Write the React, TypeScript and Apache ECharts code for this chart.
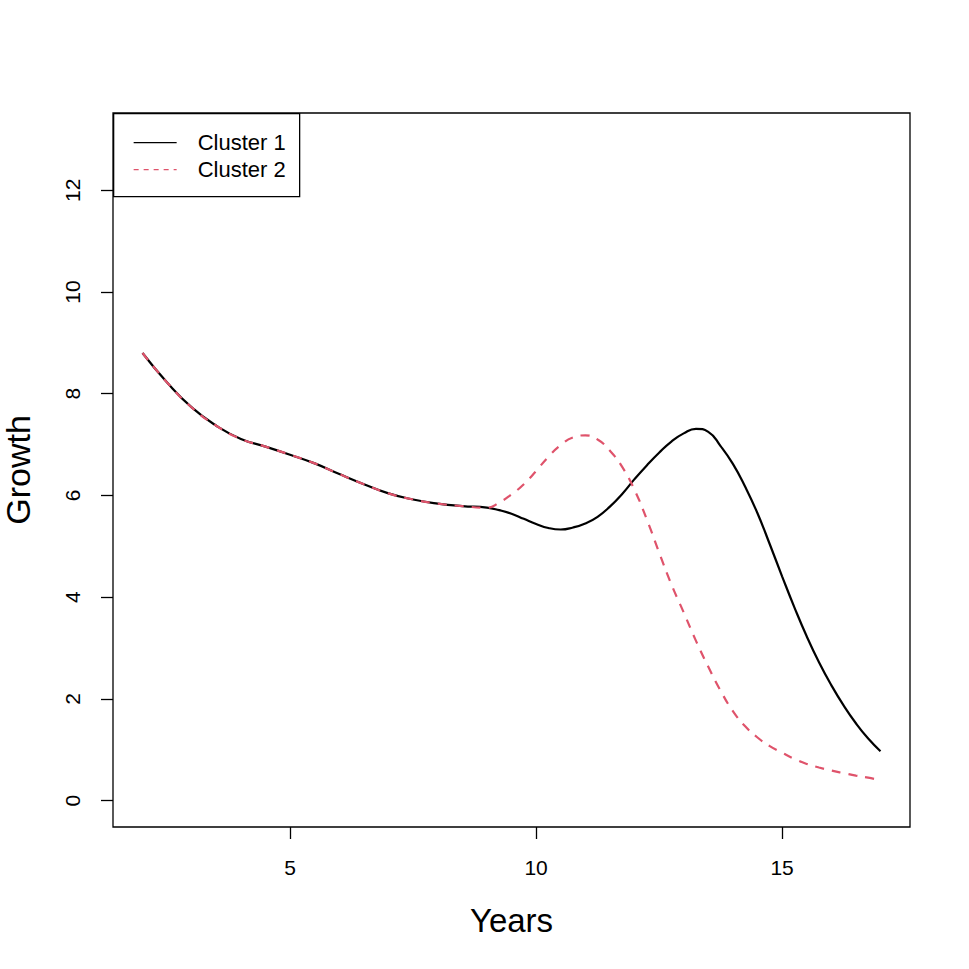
import React, { useEffect, useRef } from "react";
import * as echarts from "echarts";

const years = [2, 2.5, 3, 3.5, 4, 4.5, 5, 5.5, 6, 6.5, 7, 7.5, 8, 8.5, 9, 9.25, 9.5, 9.75, 10, 10.25, 10.5, 10.75, 11, 11.25, 11.5, 11.75, 12, 12.25, 12.5, 12.75, 13, 13.25, 13.5, 13.75, 14, 14.25, 14.5, 14.75, 15, 15.25, 15.5, 15.75, 16, 16.25, 16.5, 16.75, 17];
const cluster1 = [8.8, 8.22, 7.73, 7.37, 7.11, 6.96, 6.8, 6.63, 6.42, 6.22, 6.04, 5.92, 5.84, 5.79, 5.76, 5.71, 5.64, 5.54, 5.44, 5.36, 5.33, 5.37, 5.45, 5.58, 5.78, 6.03, 6.32, 6.59, 6.84, 7.06, 7.22, 7.31, 7.25, 6.97, 6.62, 6.17, 5.65, 5.04, 4.41, 3.8, 3.23, 2.72, 2.27, 1.87, 1.52, 1.22, 0.97];
const cluster2 = [8.8, 8.22, 7.73, 7.37, 7.11, 6.96, 6.8, 6.63, 6.42, 6.22, 6.04, 5.92, 5.84, 5.79, 5.76, 5.86, 6.02, 6.22, 6.48, 6.76, 6.99, 7.14, 7.18, 7.1, 6.88, 6.56, 6.11, 5.53, 4.88, 4.25, 3.7, 3.14, 2.63, 2.16, 1.76, 1.46, 1.24, 1.07, 0.94, 0.82, 0.72, 0.65, 0.59, 0.54, 0.49, 0.45, 0.4];
const xTicks = [5, 10, 15];
const yTicks = [0, 2, 4, 6, 8, 10, 12];
const seriesNames = ["Cluster 1", "Cluster 2"];
const seriesColors = ["#000000", "#DF536B"];

const FONT = "Liberation Sans, Arial, Helvetica, sans-serif";

export default function App() {
  const ref = useRef<HTMLDivElement>(null);
  useEffect(() => {
    if (!ref.current) return;
    const chart = echarts.init(ref.current, null, { renderer: "svg" });
    const pair = (ys: number[]) => years.map((x, i) => [x, ys[i]]);
    const legendLeft = 113;
    const legendTop = 113;
    chart.setOption({
      animation: false,
      backgroundColor: "#ffffff",
      textStyle: { fontFamily: FONT },
      grid: {
        left: 113,
        top: 113,
        right: 59,
        bottom: 142,
        outerBoundsMode: "none",
        containLabel: false,
        show: true,
        borderColor: "#000",
        borderWidth: 1.3,
        backgroundColor: "transparent",
      },
      xAxis: {
        type: "value",
        min: 1.4,
        max: 17.6,
        name: "Years",
        nameLocation: "middle",
        nameGap: 77,
        nameTextStyle: { fontFamily: FONT, fontSize: 33, color: "#000" },
        axisLine: { show: false, onZero: false },
        splitLine: { show: false },
        axisTick: { show: true, length: 12, inside: false, customValues: xTicks, lineStyle: { color: "#000", width: 1.3 } },
        axisLabel: { customValues: xTicks, fontFamily: FONT, fontSize: 21, color: "#000", margin: 30 },
      },
      yAxis: {
        type: "value",
        min: -0.52,
        max: 13.52,
        name: "Growth",
        nameLocation: "middle",
        nameGap: 78,
        nameTextStyle: { fontFamily: FONT, fontSize: 34, color: "#000" },
        axisLine: { show: false, onZero: false },
        splitLine: { show: false },
        axisTick: { show: true, length: 12, inside: false, customValues: yTicks, lineStyle: { color: "#000", width: 1.3 } },
        axisLabel: { customValues: yTicks, rotate: 90, fontFamily: FONT, fontSize: 21, color: "#000", margin: 30 },
      },
      graphic: [
        {
          type: "group",
          left: legendLeft,
          top: legendTop,
          z: 100,
          children: [
            {
              type: "rect",
              shape: { x: 0, y: 0, width: 186, height: 83 },
              style: { fill: "#fff", stroke: "#000", lineWidth: 1.3 },
            },
            {
              type: "line",
              shape: { x1: 20, y1: 29, x2: 63, y2: 29 },
              style: { stroke: seriesColors[0], lineWidth: 1.3 },
            },
            {
              type: "line",
              shape: { x1: 20, y1: 56, x2: 63, y2: 56 },
              style: { stroke: seriesColors[1], lineWidth: 1.3, lineDash: [5, 5] },
            },
            {
              type: "text",
              x: 84,
              y: 29,
              style: {
                text: seriesNames[0],
                fontFamily: FONT,
                fontSize: 22,
                fill: "#000",
                verticalAlign: "middle",
                textVerticalAlign: "middle",
              },
            },
            {
              type: "text",
              x: 84,
              y: 56,
              style: {
                text: seriesNames[1],
                fontFamily: FONT,
                fontSize: 22,
                fill: "#000",
                verticalAlign: "middle",
                textVerticalAlign: "middle",
              },
            },
          ],
        },
      ],
      series: [
        {
          name: seriesNames[0],
          type: "line",
          data: pair(cluster1),
          smooth: 0.5,
          symbol: "none",
          showSymbol: false,
          lineStyle: { color: seriesColors[0], width: 2.2, type: "solid" },
          itemStyle: { color: seriesColors[0] },
          z: 2,
        },
        {
          name: seriesNames[1],
          type: "line",
          data: pair(cluster2),
          smooth: 0.5,
          symbol: "none",
          showSymbol: false,
          lineStyle: { color: seriesColors[1], width: 2.2, type: [9, 8] },
          itemStyle: { color: seriesColors[1] },
          z: 3,
        },
      ],
    });
    return () => chart.dispose();
  }, []);
  return (
    <div
      ref={ref}
      style={{ position: "fixed", left: 0, top: 0, width: 969, height: 969, background: "#fff" }}
    />
  );
}
